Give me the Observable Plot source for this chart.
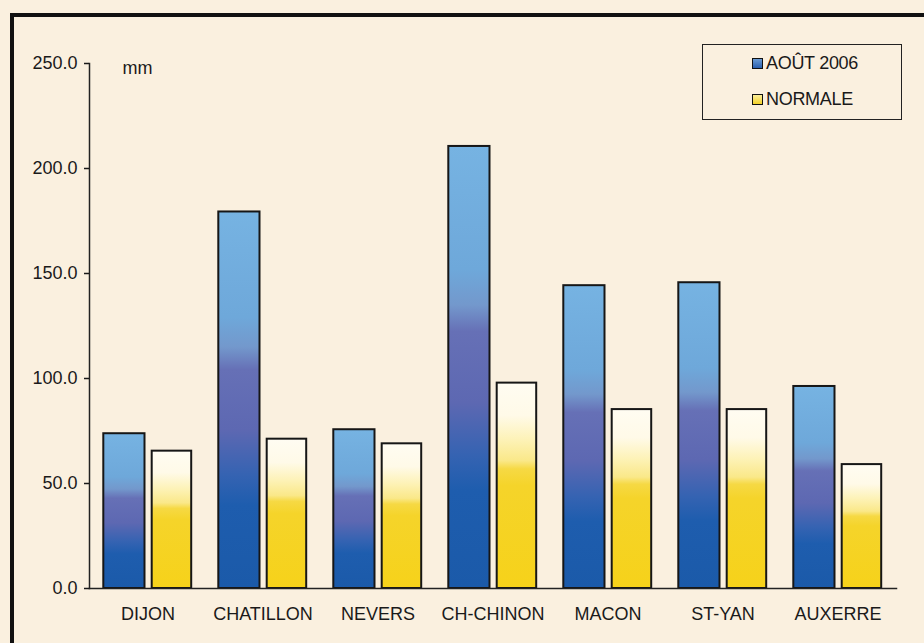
<!DOCTYPE html>
<html>
<head>
<meta charset="utf-8">
<script src="https://cdn.jsdelivr.net/npm/d3@7"></script>
<script src="https://cdn.jsdelivr.net/npm/@observablehq/plot@0.6"></script>
<style>
  html, body { margin: 0; padding: 0; background: #faf0df; }
  #wrap { position: relative; width: 924px; height: 643px; overflow: hidden; background: #faf0df;
          font-family: "Liberation Sans", Arial, Helvetica, sans-serif; color: #1a1a1a; }
  #border { position: absolute; left: 10px; top: 13px; width: 1000px; height: 800px;
            border-top: 4px solid #111; border-left: 4px solid #111; box-sizing: border-box; }
  #chart { position: absolute; left: 0; top: 0; }
  #legend { position: absolute; left: 702px; top: 44px; width: 200px; height: 76px;
            border: 1px solid #222; box-sizing: border-box; }
  .item { position: absolute; left: 49px; height: 20px; display: flex; align-items: center;
          font-size: 18px; letter-spacing: -0.3px; white-space: nowrap; }
  .sw { width: 9px; height: 9px; border: 1px solid #111; margin-right: 3px; flex: none; }
</style>
</head>
<body>
<div id="wrap">
  <div id="border"></div>
  <div id="chart"></div>
  <div id="legend"></div>
</div>
<script>
const cities = ["DIJON", "CHATILLON", "NEVERS", "CH-CHINON", "MACON", "ST-YAN", "AUXERRE"];
const aout2006 = [73.7, 179.3, 75.6, 210.5, 144.2, 145.6, 96.2];
const normale = [65.4, 71.1, 68.9, 97.8, 85.2, 85.2, 59.0];
const yTicks = [0, 50, 100, 150, 200, 250];
const seriesNames = ["AOÛT 2006", "NORMALE"];
const unitLabel = "mm";

const rowsA = cities.map((c, i) => ({city: c, value: aout2006[i]}));
const rowsN = cities.map((c, i) => ({city: c, value: normale[i]}));

const chart = Plot.plot({
  width: 924,
  height: 643,
  marginLeft: 89,
  marginRight: 28,
  marginTop: 63,
  marginBottom: 55,
  style: {background: "transparent", fontFamily: "'Liberation Sans', Arial, Helvetica, sans-serif", color: "#1a1a1a"},
  x: {domain: cities, padding: 0},
  y: {domain: [0, 250]},
  marks: [
    Plot.barY(rowsA, {x: "city", y: "value", fill: "url(#gradBlue)", stroke: "#161616", strokeWidth: 2,
      insetLeft: 13.3, insetRight: 60.5}),
    Plot.barY(rowsN, {x: "city", y: "value", fill: "url(#gradYellow)", stroke: "#161616", strokeWidth: 2,
      insetLeft: 61.7, insetRight: 13.8}),
    Plot.frame({anchor: "left", stroke: "#222", strokeWidth: 1.5}),
    Plot.frame({anchor: "bottom", stroke: "#222", strokeWidth: 1.5}),
    Plot.axisY({ticks: yTicks, tickFormat: d3.format(".1f"), tickSize: 5, tickPadding: 7,
      fontSize: 18, label: null, strokeWidth: 1.5}),
    Plot.axisX({tickSize: 0, tickPadding: 19, fontSize: 18, label: null}),
    Plot.text([unitLabel], {frameAnchor: "top-left", dx: 33, dy: 5, fontSize: 18, textAnchor: "start",
      lineAnchor: "middle", fill: "#1a1a1a"})
  ]
});

d3.select(chart).insert("defs", ":first-child").html(`
  <linearGradient id="gradBlue" x1="0" y1="0" x2="0" y2="1">
    <stop offset="0" stop-color="#76b3e2"/>
    <stop offset="0.28" stop-color="#6ea8da"/>
    <stop offset="0.36" stop-color="#7398cc"/>
    <stop offset="0.42" stop-color="#6670b6"/>
    <stop offset="0.58" stop-color="#5d68b2"/>
    <stop offset="0.70" stop-color="#3563b2"/>
    <stop offset="0.78" stop-color="#1e5dae"/>
    <stop offset="1" stop-color="#1b5aa9"/>
  </linearGradient>
  <linearGradient id="gradYellow" x1="0" y1="0" x2="0" y2="1">
    <stop offset="0" stop-color="#fffcf2"/>
    <stop offset="0.16" stop-color="#fffae8"/>
    <stop offset="0.28" stop-color="#fdf2b6"/>
    <stop offset="0.38" stop-color="#fae889"/>
    <stop offset="0.42" stop-color="#f6d944"/>
    <stop offset="0.50" stop-color="#f5d42a"/>
    <stop offset="1" stop-color="#f6d21a"/>
  </linearGradient>
`);

document.getElementById("chart").appendChild(chart);

const legend = document.getElementById("legend");
const swFills = ["linear-gradient(#6a9bd4, #2a5fae)", "linear-gradient(#fbee9a, #f3d22a)"];
const itemTops = [8, 44];
seriesNames.forEach((name, i) => {
  const item = document.createElement("div");
  item.className = "item";
  item.style.top = itemTops[i] + "px";
  const sw = document.createElement("span");
  sw.className = "sw";
  sw.style.background = swFills[i];
  item.appendChild(sw);
  item.appendChild(document.createTextNode(name));
  legend.appendChild(item);
});
</script>
</body>
</html>
